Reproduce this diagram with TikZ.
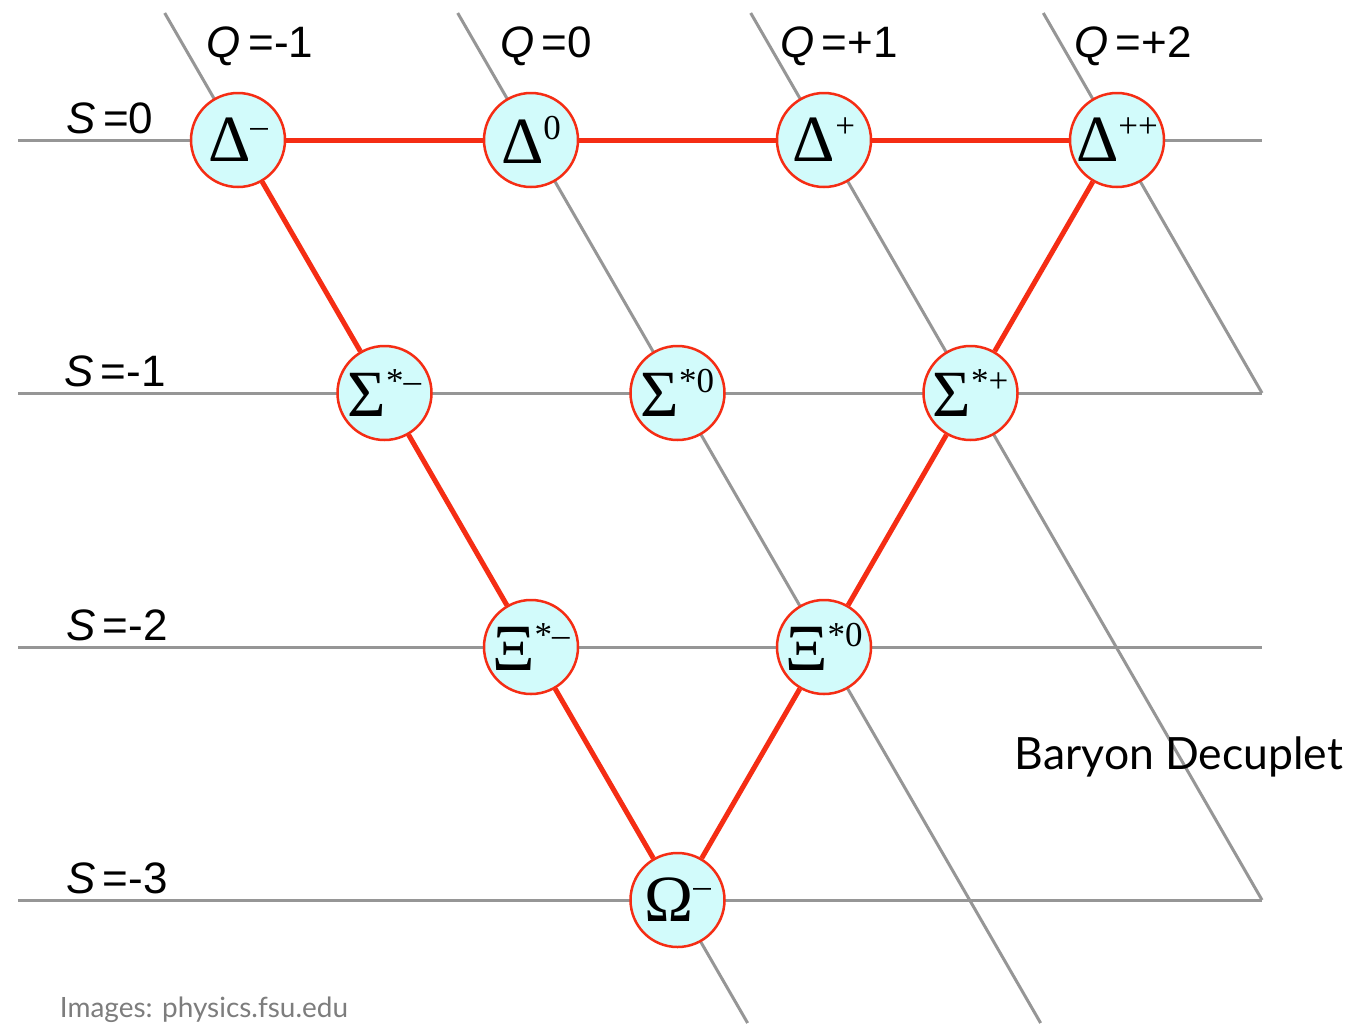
\documentclass[tikz,border=0pt]{standalone}
\usepackage{fontspec}
\newfontfamily\qfont{Liberation Sans}
\newfontfamily\grk{Liberation Serif}
\newfontfamily\gill{Lato}
\definecolor{gridgray}{RGB}{150,150,150}
\definecolor{edgered}{RGB}{245,45,20}
\definecolor{ballfill}{RGB}{210,251,251}
\definecolor{creditgray}{RGB}{125,125,125}
\newcommand\hadron[2]{{\grk\fontsize{66}{66}\selectfont #1\raisebox{24pt}{\fontsize{35}{35}\selectfont #2}}}
\begin{document}
\begin{tikzpicture}[x=1pt,y=-1pt,
  gridline/.style={draw=gridgray,line width=3pt},
  redline/.style={draw=edgered,line width=5pt},
  ball/.style={circle,draw=edgered,line width=2.5pt,fill=ballfill,minimum size=94pt,inner sep=0pt},
  axlabel/.style={font=\qfont\fontsize{44}{44}\selectfont,inner sep=0pt}]
\useasboundingbox (0,0) rectangle (1351,1023);
\fill[white] (0,0) rectangle (1351,1023);
% grid end points
\coordinate (h0l) at (18,140);  \coordinate (h0r) at (1262,140);
\coordinate (h1l) at (18,393);  \coordinate (h1r) at (1262,393);
\coordinate (h2l) at (18,647);  \coordinate (h2r) at (1262,647);
\coordinate (h3l) at (18,900);  \coordinate (h3r) at (1262,900);
\coordinate (d1t) at (164.7,13);  \coordinate (d1b) at (747.6,1023);
\coordinate (d2t) at (457.7,13);  \coordinate (d2b) at (1040.6,1023);
\coordinate (d3t) at (750.7,13);  \coordinate (d3b) at (1262,900);
\coordinate (d4t) at (1043.3,13); \coordinate (d4b) at (1262,393);
\draw[gridline] (h0l) -- (h0r);
\draw[gridline] (h1l) -- (h1r);
\draw[gridline] (h2l) -- (h2r);
\draw[gridline] (h3l) -- (h3r);
\draw[gridline] (d1t) -- (d1b);
\draw[gridline] (d2t) -- (d2b);
\draw[gridline] (d3t) -- (d3b);
\draw[gridline] (d4t) -- (d4b);
% nodes
\node[ball] (dm)  at (238,140)   {\hadron{Δ}{–}};
\node[ball] (d0)  at (531,140)   {\hadron{Δ}{0}};
\node[ball] (dp)  at (824,140)   {\hadron{Δ}{+}};
\node[ball] (dpp) at (1117,140)  {\hadron{Δ}{++}};
\node[ball] (sm)  at (384.5,393) {\hadron{Σ}{*–}};
\node[ball] (s0)  at (677.5,393) {\hadron{Σ}{*0}};
\node[ball] (sp)  at (970.5,393) {\hadron{Σ}{*+}};
\node[ball] (xm)  at (531,647)   {\hadron{Ξ}{*–}};
\node[ball] (x0)  at (824,647)   {\hadron{Ξ}{*0}};
\node[ball] (om)  at (677.5,900) {\hadron{Ω}{–}};
% red edges
\draw[redline] (dm) -- (d0);
\draw[redline] (d0) -- (dp);
\draw[redline] (dp) -- (dpp);
\draw[redline] (dm) -- (sm);
\draw[redline] (sm) -- (xm);
\draw[redline] (xm) -- (om);
\draw[redline] (dpp) -- (sp);
\draw[redline] (sp) -- (x0);
\draw[redline] (x0) -- (om);
% axis labels
\node[axlabel] (q1) at (260,46)  {{\itshape Q}\,=-1};
\node[axlabel] (q2) at (546,46)  {{\itshape Q}\,=0};
\node[axlabel] (q3) at (839,46)  {{\itshape Q}\,=+1};
\node[axlabel] (q4) at (1133,46) {{\itshape Q}\,=+2};
\node[axlabel] (s1) at (110,118) {{\itshape S}\,=0};
\node[axlabel] (s2) at (115,371) {{\itshape S}\,=-1};
\node[axlabel] (s3) at (117,625) {{\itshape S}\,=-2};
\node[axlabel] (s4) at (117,878) {{\itshape S}\,=-3};
\node[inner sep=0pt] (title) at (1179,757) {\resizebox{328pt}{!}{\gill Baryon Decuplet}};
\node[inner sep=0pt,text=creditgray] (credit) at (204,1010) {\resizebox{288pt}{!}{\gill Images: physics.fsu.edu}};
\end{tikzpicture}
\end{document}
